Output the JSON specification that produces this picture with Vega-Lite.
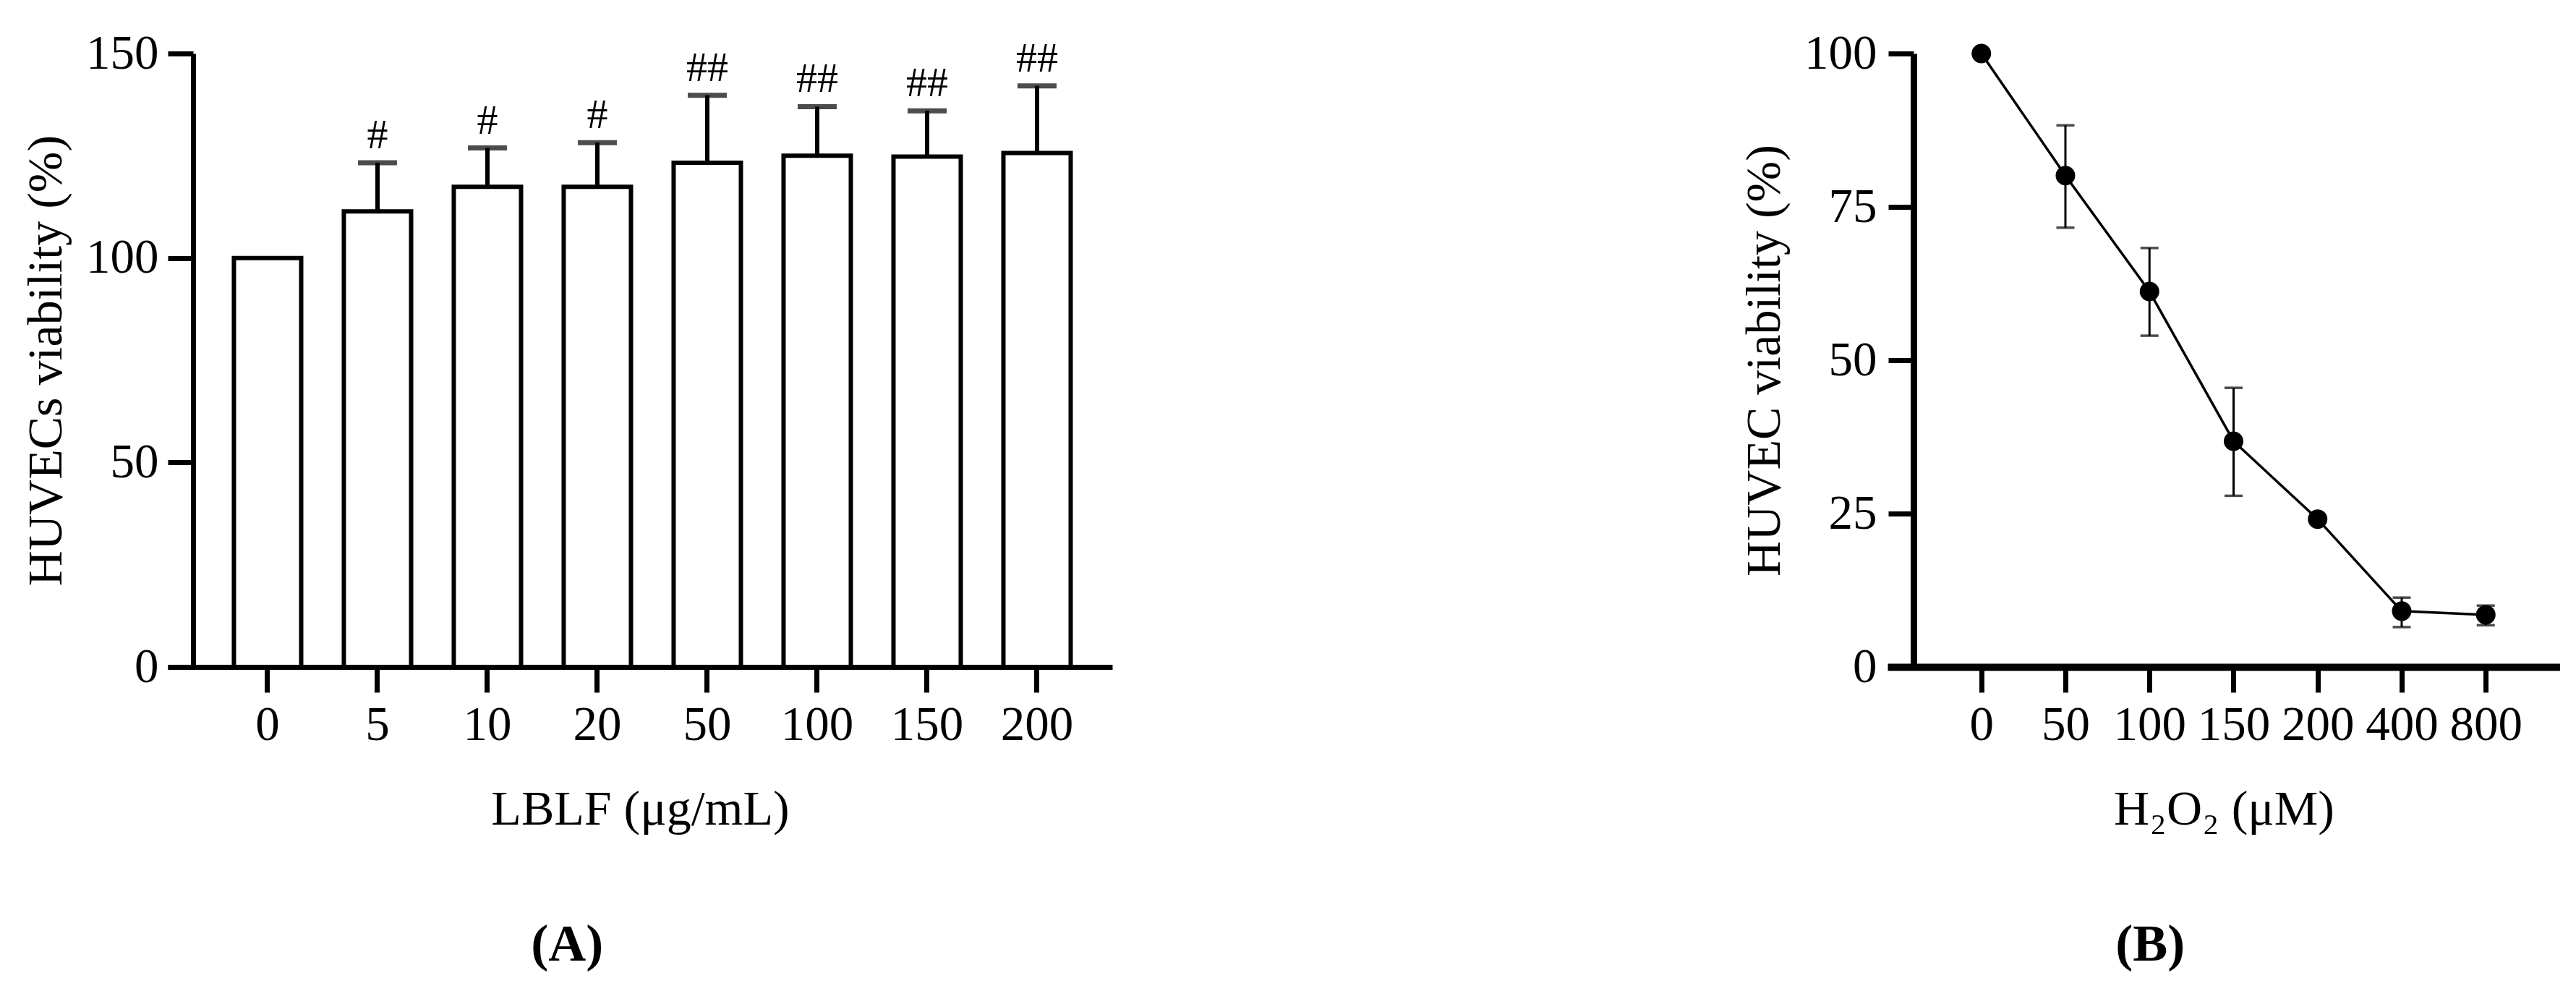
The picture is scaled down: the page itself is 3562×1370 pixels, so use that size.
{
  "$schema": "https://vega.github.io/schema/vega-lite/v6.json",
  "background": "white",
  "padding": {"left": 30, "top": 40, "right": 0, "bottom": 10},
  "config": {
    "font": "Liberation Serif",
    "view": {"stroke": null},
    "axis": {"grid": false, "domainColor": "black", "domainWidth": 7, "tickColor": "black", "tickWidth": 7, "tickSize": 35, "labelColor": "black", "titleColor": "black", "labelFontSize": 67, "titleFontSize": 68, "titleFontWeight": "normal", "labelFont": "Liberation Serif", "titleFont": "Liberation Serif"},
    "title": {"font": "Liberation Serif", "fontSize": 72, "fontWeight": "bold", "color": "black", "orient": "bottom", "anchor": "middle", "frame": "bounds", "offset": 118}
  },
  "spacing": 868,
  "hconcat": [
    {
      "title": {"text": "(A)"},
      "width": 1306,
      "height": 848,
      "data": {"values": [
        {"dose": "0", "mean": 100, "hi": null, "sig": ""},
        {"dose": "5", "mean": 111.4, "hi": 123.3, "sig": "#"},
        {"dose": "10", "mean": 117.4, "hi": 126.9, "sig": "#"},
        {"dose": "20", "mean": 117.4, "hi": 128.2, "sig": "#"},
        {"dose": "50", "mean": 123.3, "hi": 139.8, "sig": "##"},
        {"dose": "100", "mean": 125.0, "hi": 137.0, "sig": "##"},
        {"dose": "150", "mean": 124.8, "hi": 136.0, "sig": "##"},
        {"dose": "200", "mean": 125.7, "hi": 142.1, "sig": "##"}
      ]},
      "encoding": {
        "x": {"field": "dose", "type": "ordinal", "sort": null, "title": "LBLF (μg/mL)",
          "scale": {"paddingInner": 0.388, "paddingOuter": 0.49, "align": 0.614},
          "axis": {"labelAngle": 0, "bandPosition": 0.5, "labelPadding": 12, "titlePadding": 50}}
      },
      "layer": [
        {"mark": {"type": "bar", "fill": "white", "stroke": "black", "strokeWidth": 6},
          "encoding": {"y": {"field": "mean", "type": "quantitative", "title": "HUVECs viability (%)", "scale": {"domain": [0, 150], "nice": false},
            "axis": {"values": [0, 50, 100, 150], "offset": -35, "labelPadding": 13, "titlePadding": 20}}}},
        {"mark": {"type": "rule", "color": "black", "strokeWidth": 6},
          "encoding": {"y": {"field": "mean", "type": "quantitative", "title": "HUVECs viability (%)"}, "y2": {"field": "hi"}}},
        {"mark": {"type": "tick", "color": "black", "thickness": 7, "size": 54},
          "encoding": {"y": {"field": "hi", "type": "quantitative", "title": "HUVECs viability (%)"}}},
        {"mark": {"type": "text", "baseline": "bottom", "dy": -8, "fontSize": 58, "color": "black", "font": "Liberation Serif"},
          "encoding": {"y": {"field": "hi", "type": "quantitative", "title": "HUVECs viability (%)"}, "text": {"field": "sig"}}}
      ]
    },
    {
      "title": {"text": "(B)"},
      "width": 930,
      "height": 848,
      "data": {"values": [
        {"dose": "0", "mean": 100, "lo": null, "hi": null},
        {"dose": "50", "mean": 80.1, "lo": 71.6, "hi": 88.3},
        {"dose": "100", "mean": 61.2, "lo": 54.0, "hi": 68.3},
        {"dose": "150", "mean": 36.8, "lo": 27.9, "hi": 45.5},
        {"dose": "200", "mean": 24.1, "lo": null, "hi": null},
        {"dose": "400", "mean": 9.1, "lo": 6.5, "hi": 11.3},
        {"dose": "800", "mean": 8.5, "lo": 6.8, "hi": 10.0}
      ]},
      "encoding": {
        "x": {"field": "dose", "type": "ordinal", "sort": null, "title": "H₂O₂ (μM)",
          "scale": {"type": "point", "padding": 1.164, "align": 0.558},
          "axis": {"labelAngle": 0, "labelPadding": 12, "titlePadding": 50, "domainWidth": 10}}
      },
      "layer": [
        {"mark": {"type": "line", "color": "black", "strokeWidth": 3.5},
          "encoding": {"y": {"field": "mean", "type": "quantitative", "title": "HUVEC viability (%)", "scale": {"domain": [0, 100], "nice": false},
            "axis": {"values": [0, 25, 50, 75, 100], "offset": -36, "labelPadding": 16, "titlePadding": 20, "domainWidth": 9}}}},
        {"mark": {"type": "rule", "color": "black", "strokeWidth": 3},
          "encoding": {"y": {"field": "lo", "type": "quantitative", "title": "HUVEC viability (%)"}, "y2": {"field": "hi"}}},
        {"mark": {"type": "tick", "color": "black", "thickness": 3.5, "size": 25},
          "encoding": {"y": {"field": "lo", "type": "quantitative", "title": "HUVEC viability (%)"}}},
        {"mark": {"type": "tick", "color": "black", "thickness": 3.5, "size": 25},
          "encoding": {"y": {"field": "hi", "type": "quantitative", "title": "HUVEC viability (%)"}}},
        {"mark": {"type": "point", "filled": true, "color": "black", "size": 729, "opacity": 1},
          "encoding": {"y": {"field": "mean", "type": "quantitative", "title": "HUVEC viability (%)"}}}
      ]
    }
  ]
}
